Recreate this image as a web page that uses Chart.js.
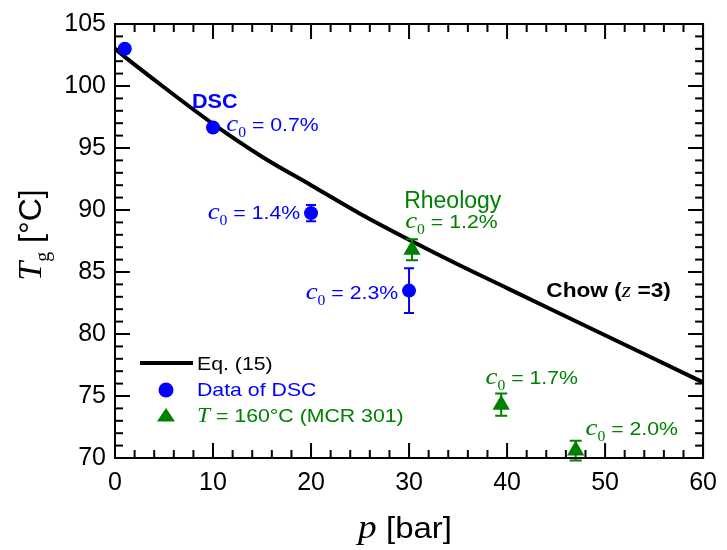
<!DOCTYPE html>
<html>
<head>
<meta charset="utf-8">
<script src="https://cdn.jsdelivr.net/npm/chart.js@4/dist/chart.umd.min.js"></script>
<style>
  html, body { margin: 0; padding: 0; background: #ffffff; }
  #wrap { width: 727px; height: 550px; }
</style>
</head>
<body>
<div id="wrap"><canvas id="chart" width="727" height="550"></canvas></div>
<script>
// Eq. (15) curve: glass transition temperature vs. CO2 pressure
const curvePressure = [0, 1, 5, 10, 15, 20, 25, 30, 35, 40, 45, 50, 55, 60];
const curveTg = [103.0, 102.35, 99.9, 96.95, 94.3, 92.0, 89.7, 87.6, 85.6, 83.7, 81.8, 79.9, 78.0, 76.1];

// DSC measurements
const dscPressure = [1, 10, 20, 30];
const dscTg = [103.0, 96.65, 89.75, 83.5];
const dscError = [0, 0, 0.65, 1.8];

// Rheology (T = 160 °C, MCR 301)
const rheoPressure = [30.3, 39.4, 47.0];
const rheoTg = [86.8, 74.3, 70.6];
const rheoError = [0.85, 0.9, 0.8];

// Axis tick values (major) and minor tick values
const xTickValues = [0, 10, 20, 30, 40, 50, 60];
const yTickValues = [70, 75, 80, 85, 90, 95, 100, 105];
const xMinorValues = [2, 4, 6, 8, 12, 14, 16, 18, 22, 24, 26, 28, 32, 34, 36, 38, 42, 44, 46, 48, 52, 54, 56, 58];
const yMinorValues = [71, 72, 73, 74, 76, 77, 78, 79, 81, 82, 83, 84, 86, 87, 88, 89, 91, 92, 93, 94, 96, 97, 98, 99, 101, 102, 103, 104];

// Concentration labels beside the points
const dscLabels = ['0.7%', '1.4%', '2.3%'];
const rheoLabels = ['1.2%', '1.7%', '2.0%'];

const BLUE = '#0000ff';
const GREEN = '#008000';
const SANS = '"Liberation Sans", Arial, Helvetica, sans-serif';
const SERIF = '"Liberation Serif", "Times New Roman", serif';

const X_MIN = xTickValues[0], X_MAX = xTickValues[xTickValues.length - 1];
const Y_MIN = yTickValues[0], Y_MAX = yTickValues[yTickValues.length - 1];

function toPoints(xs, ys) {
  return xs.map((x, i) => ({ x: x, y: ys[i] }));
}

// tick marks on the bottom and top edges (vertical strokes)
function xEdgeMarks(values) {
  const out = [];
  values.forEach(v => { out.push({ x: v, y: Y_MIN }); out.push({ x: v, y: Y_MAX }); });
  return out;
}
// tick marks on the left and right edges (horizontal strokes)
function yEdgeMarks(values) {
  const out = [];
  values.forEach(v => { out.push({ x: X_MIN, y: v }); out.push({ x: X_MAX, y: v }); });
  return out;
}

// a tick set drawn as 'line' point markers, clipped to the plot so only the inner half shows
function tickSet(data, half, rotation) {
  return {
    label: '',
    data: data,
    showLine: false,
    pointStyle: 'line',
    pointRadius: half,
    pointHoverRadius: half,
    pointRotation: rotation,
    pointBorderColor: '#000000',
    pointBorderWidth: 2,
    borderColor: '#000000',
    borderWidth: 2,
    clip: 0,
    order: 10
  };
}

// draw a run of differently styled text pieces, optionally stretched horizontally
function drawRich(ctx, x, y, segs, align, stretch) {
  let total = 0;
  segs.forEach(s => { ctx.font = s.font; s.w = ctx.measureText(s.text).width; total += s.w; });
  ctx.save();
  ctx.translate(x, y);
  ctx.scale(stretch || 1, 1);
  let cx = align === 'center' ? -total / 2 : (align === 'right' ? -total : 0);
  ctx.textAlign = 'left';
  ctx.textBaseline = 'alphabetic';
  segs.forEach(s => {
    ctx.font = s.font;
    ctx.fillStyle = s.color;
    ctx.fillText(s.text, cx, s.dy || 0);
    cx += s.w;
  });
  ctx.restore();
}

function c0Label(value, color) {
  return [
    { text: 'c', font: 'italic 24px ' + SERIF, color: color },
    { text: '0', font: '14px ' + SERIF, color: color, dy: 6 },
    { text: ' = ' + value, font: '19px ' + SANS, color: color }
  ];
}

// annotations placed in data coordinates (left edge, baseline)
const notes = [
  { x: 7.85, y: 98.25, stretch: 1.08, segs: [{ text: 'DSC', font: 'bold 20px ' + SANS, color: BLUE }] },
  { x: 11.35, y: 96.4, stretch: 1.12, segs: c0Label(dscLabels[0], BLUE) },
  { x: 9.45, y: 89.25, stretch: 1.12, segs: c0Label(dscLabels[1], BLUE) },
  { x: 19.45, y: 82.8, stretch: 1.12, segs: c0Label(dscLabels[2], BLUE) },
  { x: 29.5, y: 90.2, stretch: 1.0, segs: [{ text: 'Rheology', font: '23px ' + SANS, color: GREEN }] },
  { x: 29.6, y: 88.55, stretch: 1.12, segs: c0Label(rheoLabels[0], GREEN) },
  { x: 37.8, y: 76.0, stretch: 1.12, segs: c0Label(rheoLabels[1], GREEN) },
  { x: 48.0, y: 71.85, stretch: 1.12, segs: c0Label(rheoLabels[2], GREEN) },
  { x: 44.0, y: 82.95, stretch: 1.08, segs: [
      { text: 'Chow (', font: 'bold 21px ' + SANS, color: '#000' },
      { text: 'z', font: 'italic 22px ' + SERIF, color: '#000' },
      { text: ' =3)', font: 'bold 21px ' + SANS, color: '#000' }
  ] }
];

// vertical error bars with caps, and the closed frame
const marks = {
  id: 'marks',
  afterDatasetsDraw(chart) {
    const ctx = chart.ctx, a = chart.chartArea, xs = chart.scales.x, ys = chart.scales.y;
    const groups = [
      { px: dscPressure, py: dscTg, err: dscError, color: BLUE, cap: 5 },
      { px: rheoPressure, py: rheoTg, err: rheoError, color: GREEN, cap: 6 }
    ];
    ctx.save();
    ctx.lineWidth = 2;
    groups.forEach(g => {
      ctx.strokeStyle = g.color;
      g.px.forEach((p, i) => {
        const e = g.err[i];
        if (!e) return;
        const x = xs.getPixelForValue(p);
        const y1 = ys.getPixelForValue(g.py[i] + e);
        const y2 = ys.getPixelForValue(g.py[i] - e);
        ctx.beginPath();
        ctx.moveTo(x, y1); ctx.lineTo(x, y2);
        ctx.moveTo(x - g.cap, y1); ctx.lineTo(x + g.cap, y1);
        ctx.moveTo(x - g.cap, y2); ctx.lineTo(x + g.cap, y2);
        ctx.stroke();
      });
    });
    ctx.strokeStyle = '#000000';
    ctx.lineWidth = 2;
    ctx.strokeRect(a.left, a.top, a.right - a.left, a.bottom - a.top);
    ctx.restore();
  }
};

// annotations, legend and axis titles
const overlay = {
  id: 'overlay',
  afterDraw(chart) {
    const ctx = chart.ctx, a = chart.chartArea, xs = chart.scales.x, ys = chart.scales.y;

    notes.forEach(n => {
      drawRich(ctx, xs.getPixelForValue(n.x), ys.getPixelForValue(n.y), n.segs, 'left', n.stretch);
    });

    // legend, lower left of the plot
    const lx = a.left, ly = a.top;
    ctx.save();
    ctx.strokeStyle = '#000';
    ctx.lineWidth = 4;
    ctx.beginPath();
    ctx.moveTo(lx + 25, ly + 339); ctx.lineTo(lx + 78, ly + 339);
    ctx.stroke();
    ctx.fillStyle = BLUE;
    ctx.beginPath();
    ctx.arc(lx + 51, ly + 366, 7.5, 0, Math.PI * 2);
    ctx.fill();
    ctx.fillStyle = GREEN;
    ctx.beginPath();
    ctx.moveTo(lx + 51, ly + 384);
    ctx.lineTo(lx + 60, ly + 397.5);
    ctx.lineTo(lx + 42, ly + 397.5);
    ctx.closePath();
    ctx.fill();
    ctx.restore();
    drawRich(ctx, lx + 82, ly + 346, [{ text: 'Eq. (15)', font: '19px ' + SANS, color: '#000' }], 'left', 1.12);
    drawRich(ctx, lx + 82, ly + 372, [{ text: 'Data of DSC', font: '19px ' + SANS, color: BLUE }], 'left', 1.12);
    drawRich(ctx, lx + 82, ly + 398, [
      { text: 'T', font: 'italic 21px ' + SERIF, color: GREEN },
      { text: ' = 160°C (MCR 301)', font: '19px ' + SANS, color: GREEN }
    ], 'left', 1.12);

    // x-axis title
    drawRich(ctx, (a.left + a.right) / 2 - 4, 538, [
      { text: 'p', font: 'italic 34px ' + SERIF, color: '#000' },
      { text: ' [bar]', font: '30px ' + SANS, color: '#000' }
    ], 'center', 1.1);

    // y-axis title (rotated)
    ctx.save();
    ctx.translate(41, (a.top + a.bottom) / 2 - 6);
    ctx.rotate(-Math.PI / 2);
    drawRich(ctx, 0, 0, [
      { text: 'T', font: 'italic 34px ' + SERIF, color: '#000' },
      { text: 'g', font: '20px ' + SERIF, color: '#000', dy: 8 },
      { text: ' [°C]', font: '32px ' + SANS, color: '#000' }
    ], 'center', 1);
    ctx.restore();
  }
};

new Chart(document.getElementById('chart'), {
  type: 'scatter',
  data: {
    datasets: [
      {
        label: 'Eq. (15)',
        data: toPoints(curvePressure, curveTg),
        showLine: true,
        borderColor: '#000',
        borderWidth: 4,
        pointRadius: 0,
        cubicInterpolationMode: 'monotone',
        order: 3
      },
      {
        label: 'Data of DSC',
        data: toPoints(dscPressure, dscTg),
        pointStyle: 'circle',
        pointRadius: 7,
        backgroundColor: BLUE,
        borderWidth: 0,
        order: 1
      },
      {
        label: 'T = 160°C (MCR 301)',
        data: toPoints(rheoPressure, rheoTg),
        pointStyle: 'triangle',
        pointRadius: 10,
        backgroundColor: GREEN,
        borderWidth: 0,
        order: 2
      },
      tickSet(xEdgeMarks(xTickValues), 15, 90),
      tickSet(xEdgeMarks(xMinorValues), 8, 90),
      tickSet(yEdgeMarks(yTickValues), 15, 0),
      tickSet(yEdgeMarks(yMinorValues), 8, 0)
    ]
  },
  options: {
    responsive: false,
    animation: false,
    devicePixelRatio: 1,
    layout: { padding: { top: 22, right: 18, left: 0, bottom: 0 } },
    plugins: { legend: { display: false }, tooltip: { enabled: false } },
    scales: {
      x: {
        type: 'linear',
        min: X_MIN,
        max: X_MAX,
        ticks: { stepSize: 10, color: '#000', font: { family: SANS, size: 25 }, padding: 10, maxRotation: 0 },
        grid: { display: false, drawTicks: false },
        border: { display: false },
        afterFit(scale) { scale.height = 92; }
      },
      y: {
        type: 'linear',
        min: Y_MIN,
        max: Y_MAX,
        ticks: { stepSize: 5, color: '#000', font: { family: SANS, size: 25 }, padding: 9 },
        grid: { display: false, drawTicks: false },
        border: { display: false },
        afterFit(scale) { scale.width = 115; }
      }
    }
  },
  plugins: [marks, overlay]
});
</script>
</body>
</html>
